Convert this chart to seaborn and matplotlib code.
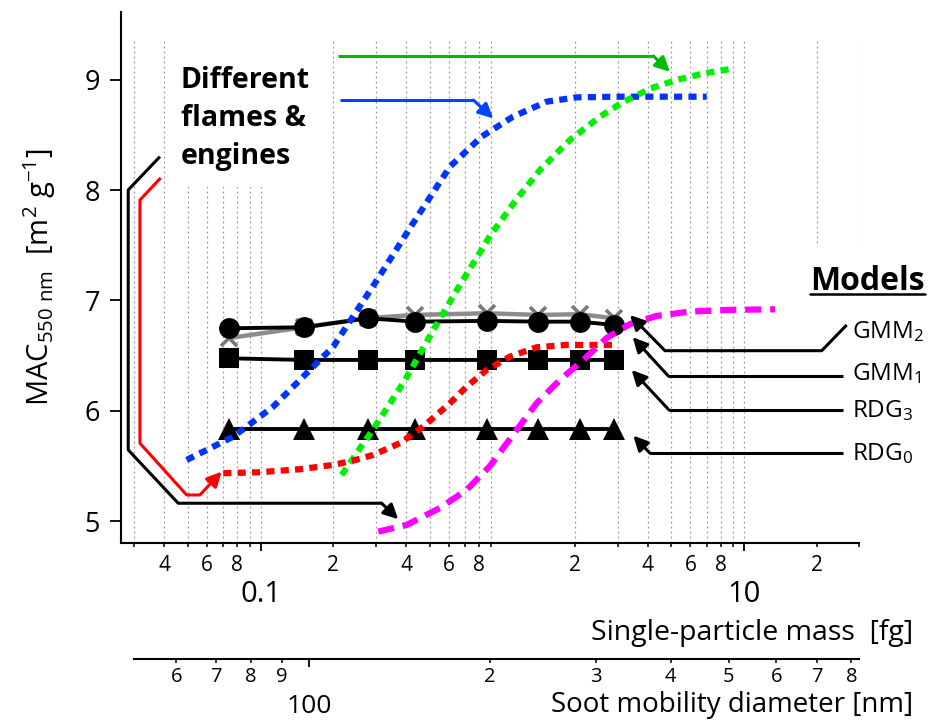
import matplotlib
matplotlib.use("Agg")
import matplotlib.pyplot as plt
import seaborn as sns
from matplotlib.patches import Rectangle
from matplotlib.lines import Line2D

# ---- measured MAC curves: single-particle mass [fg] vs MAC at 550 nm [m2/g] ----
blue_mass = [0.0494, 0.077, 0.1127, 0.1996, 0.2971, 0.4228, 0.607, 0.821, 1.107, 1.526, 2.031, 3.07, 7.01]
blue_mac = [5.555, 5.766, 6.038, 6.581, 7.156, 7.684, 8.212, 8.484, 8.665, 8.801, 8.84, 8.846, 8.846]

green_mass = [0.2163, 0.2972, 0.3955, 0.5178, 0.6368, 0.8889, 1.147, 1.432, 1.905, 2.536, 3.166, 4.096, 5.267, 6.785, 9.03]
green_mac = [5.419, 5.857, 6.277, 6.73, 7.065, 7.584, 7.919, 8.182, 8.454, 8.665, 8.798, 8.92, 8.998, 9.056, 9.101]

red_mass = [0.07003, 0.0993, 0.1454, 0.1997, 0.2416, 0.2924, 0.377, 0.471, 0.607, 0.712, 0.8614, 1.075, 1.387, 1.846, 2.878]
red_mac = [5.435, 5.444, 5.471, 5.51, 5.549, 5.601, 5.707, 5.857, 6.069, 6.219, 6.37, 6.491, 6.576, 6.597, 6.597]

magenta_mass = [0.3066, 0.4019, 0.5521, 0.712, 0.8889, 1.147, 1.387, 1.732, 2.163, 2.703, 3.375, 4.352, 5.976, 8.479, 13.44]
magenta_mac = [4.906, 4.966, 5.12, 5.284, 5.5, 5.827, 6.069, 6.28, 6.461, 6.66, 6.786, 6.86, 6.899, 6.914, 6.92]

# ---- model predictions at the sampled particle masses ----
model_mass = [0.0741, 0.151, 0.2772, 0.435, 0.8614, 1.409, 2.096, 2.897]
gmm2_mac = [6.748, 6.757, 6.839, 6.808, 6.815, 6.808, 6.808, 6.778]
gmm1_mac = [6.66, 6.757, 6.839, 6.869, 6.884, 6.869, 6.875, 6.839]
rdg3_mac = [6.476, 6.461, 6.461, 6.461, 6.461, 6.461, 6.461, 6.461]
rdg0_mac = [5.835, 5.835, 5.835, 5.835, 5.835, 5.835, 5.835, 5.835]

# ---- axis ticks ----
mac_ticks = [5, 6, 7, 8, 9]
mass_major = [0.1, 10]
mass_major_labels = ["0.1", "10"]
mass_minor = [0.03, 0.04, 0.05, 0.06, 0.07, 0.08, 0.09,
              0.2, 0.3, 0.4, 0.5, 0.6, 0.7, 0.8, 0.9,
              2, 3, 4, 5, 6, 7, 8, 9, 20, 30]
mass_minor_labels = ["", "4", "", "6", "", "8", "",
                     "2", "", "4", "", "6", "", "8", "",
                     "2", "", "4", "", "6", "", "8", "", "2", ""]
diam_major = [100]
diam_major_labels = ["100"]
diam_minor = [60, 70, 80, 90, 200, 300, 400, 500, 600, 700, 800]
diam_minor_labels = ["6", "7", "8", "9", "2", "3", "4", "5", "6", "7", "8"]

# mass-mobility relation used for the diameter scale
D_FM = 2.484
M_AT_100NM = 0.159  # fg
MASS_RANGE = (0.03, 30)


def mobility_diameter(m):
    return 100.0 * (m / M_AT_100NM) ** (1.0 / D_FM)


sns.set_theme(style="ticks")
plt.rcParams["font.family"] = ["Open Sans", "DejaVu Sans"]
plt.rcParams["mathtext.fontset"] = "custom"
plt.rcParams["mathtext.rm"] = "Open Sans"
plt.rcParams["mathtext.it"] = "Open Sans:italic"
plt.rcParams["mathtext.bf"] = "Open Sans:bold"
plt.rcParams["axes.unicode_minus"] = True
for key in ("text.color", "axes.labelcolor", "xtick.color", "ytick.color",
            "axes.edgecolor"):
    plt.rcParams[key] = "black"

W, H = 929, 722
fig = plt.figure(figsize=(W / 100, H / 100), dpi=100)
ax = fig.add_axes([120.7 / W, 1 - 543.3 / H, 738.6 / W, (543.3 - 11.7) / H])
ax.set_xscale("log")
ax.set_xlim(0.02636, 30)
ax.set_ylim(4.80, 9.616)
ax.set_facecolor("white")

# dotted vertical grid at every mass tick
grid_top = (9.369 - 4.80) / (9.616 - 4.80)
for xv in mass_minor + mass_major:
    ax.axvline(xv, ymin=0, ymax=grid_top, color="#9a9a9a", lw=0.9,
               ls=(0, (1.5, 2.5)), zorder=0.5)

# white panels behind the two text blocks
ax.add_patch(Rectangle((0.045, 8.03), 0.19 - 0.045, 1.6, facecolor="white",
                       edgecolor="none", zorder=1))
ax.add_patch(Rectangle((10.6, 4.80), 60 - 10.6, 7.483 - 4.80, facecolor="white",
                       edgecolor="none", zorder=1, clip_on=False))

# model series
sns.lineplot(x=model_mass, y=gmm1_mac, ax=ax, color="#8c8c8c", lw=3.2,
             marker="x", ms=12, mew=2.6, mec="#7a7a7a", estimator=None,
             sort=False, zorder=3)
sns.lineplot(x=model_mass, y=gmm2_mac, ax=ax, color="black", lw=2.8,
             marker="o", ms=15, mec="black", mew=0, estimator=None,
             sort=False, zorder=3.2)
sns.lineplot(x=model_mass, y=rdg3_mac, ax=ax, color="black", lw=2.8,
             marker="s", ms=15, mec="black", mew=0, estimator=None,
             sort=False, zorder=3.2)
sns.lineplot(x=model_mass, y=rdg0_mac, ax=ax, color="black", lw=2.8,
             marker="^", ms=16.5, mec="black", mew=0, estimator=None,
             sort=False, zorder=3.2)

# measured curves
curves = [
    (blue_mass, blue_mac, "#0033ff", (1.3, 1.0)),
    (green_mass, green_mac, "#00f000", (1.3, 1.0)),
    (red_mass, red_mac, "#ff0000", (1.3, 1.0)),
    (magenta_mass, magenta_mac, "#ff00ff", (2.6, 1.4)),
]
for mx, my, col, dash in curves:
    sns.lineplot(x=mx, y=my, ax=ax, color=col, lw=4.5, linestyle=(0, dash),
                 estimator=None, sort=False, zorder=4)


def pointer(path, color):
    xs = [p[0] for p in path]
    ys = [p[1] for p in path]
    ax.plot(xs[:-1], ys[:-1], color=color, lw=2.2, zorder=5,
            solid_capstyle="butt", clip_on=False)
    ax.annotate("", xy=path[-1], xytext=path[-2],
                arrowprops=dict(arrowstyle="-|>", color=color, lw=2.2,
                                mutation_scale=22, shrinkA=0, shrinkB=0),
                zorder=5, annotation_clip=False)


# bracket pointers for the flame / engine curves
pointer([(0.03831, 8.303), (0.02832, 8.001), (0.02832, 5.646), (0.0456, 5.163),
         (0.3167, 5.163), (0.371, 5.018)], "black")
pointer([(0.03856, 8.11), (0.03166, 7.91), (0.03166, 5.707), (0.0494, 5.238),
         (0.05608, 5.238), (0.06898, 5.449)], "#ff0000")
pointer([(0.2083, 9.215), (4.214, 9.215), (4.94, 9.072)], "#00bb00")
pointer([(0.2129, 8.816), (0.7585, 8.816), (0.9175, 8.65)], "#0044ff")

# model label pointers
pointer([(26.6, 6.778), (20.97, 6.545), (4.71, 6.545), (3.375, 6.868)], "black")
pointer([(25.76, 6.316), (4.86, 6.316), (3.463, 6.667)], "black")
pointer([(25.76, 6.008), (4.893, 6.008), (3.43, 6.37)], "black")
pointer([(25.76, 5.616), (4.083, 5.616), (3.483, 5.775)], "black")

for label, yb in [("GMM$_2$", 6.655), ("GMM$_1$", 6.282),
                  ("RDG$_3$", 5.942), ("RDG$_0$", 5.555)]:
    ax.text(27.9, yb, label, fontsize=17.5, ha="left", va="baseline", zorder=6)

fig.text(181 / W, 1 - 66 / H, "Different\nflames &\nengines", fontsize=20.5,
         fontweight="bold", ha="left", va="top", linespacing=1.42)
models = fig.text(925 / W, 1 - 290 / H, "Models", fontsize=23,
                  fontweight="bold", ha="right", va="baseline")

# axes styling
sns.despine(ax=ax)
for side in ("left", "bottom"):
    ax.spines[side].set_linewidth(1.5)
    ax.spines[side].set_color("black")
ax.set_yticks(mac_ticks)
ax.set_yticklabels([str(v) for v in mac_ticks])
ax.set_xticks(mass_major, labels=mass_major_labels)
ax.set_xticks(mass_minor, labels=mass_minor_labels, minor=True)
ax.tick_params(axis="x", which="minor", direction="out", length=3, width=1.1,
               pad=5.5, labelsize=15)
ax.tick_params(axis="x", which="major", direction="out", length=5.5, width=1.3,
               pad=21, labelsize=21)
ax.tick_params(axis="y", which="major", direction="out", length=7.7, width=1.3,
               pad=7, labelsize=19.5)
ax.tick_params(axis="y", which="minor", left=False)
ax.set_ylabel(r"MAC$_{\mathregular{550\ nm}}$  [m$^{\mathregular{2}}$ g$^{\mathregular{-1}}$]",
              fontsize=21)
ax.yaxis.set_label_coords(-0.085, 0.5)

# second scale: soot mobility diameter
axd = fig.add_axes([134.3 / W, 1 - 659 / H, (859.3 - 134.3) / W, 0.01])
axd.set_xscale("log")
axd.set_xlim(mobility_diameter(MASS_RANGE[0]), mobility_diameter(MASS_RANGE[1]))
axd.set_facecolor("none")
for side in ("left", "right", "top"):
    axd.spines[side].set_visible(False)
axd.spines["bottom"].set_linewidth(1.5)
axd.spines["bottom"].set_color("black")
axd.set_yticks([])
axd.set_xticks(diam_major, labels=diam_major_labels)
axd.set_xticks(diam_minor, labels=diam_minor_labels, minor=True)
axd.tick_params(axis="x", which="minor", direction="out", length=3, width=1.1,
                pad=3, labelsize=14.5)
axd.tick_params(axis="x", which="major", direction="out", length=5.5, width=1.3,
                pad=19.5, labelsize=19)

fig.text(913 / W, 1 - 640 / H, "Single-particle mass  [fg]", fontsize=20.5,
         ha="right", va="baseline")
fig.text(913 / W, 1 - 712 / H, "Soot mobility diameter [nm]", fontsize=20,
         ha="right", va="baseline")

# underline the "Models" heading
fig.canvas.draw()
bb = models.get_window_extent(fig.canvas.get_renderer())
yline = 1 - 294 / H
fig.add_artist(Line2D([bb.x0 / W, bb.x1 / W], [yline, yline], color="black",
                      lw=1.8, transform=fig.transFigure))

fig.savefig("out.png", dpi=100)
